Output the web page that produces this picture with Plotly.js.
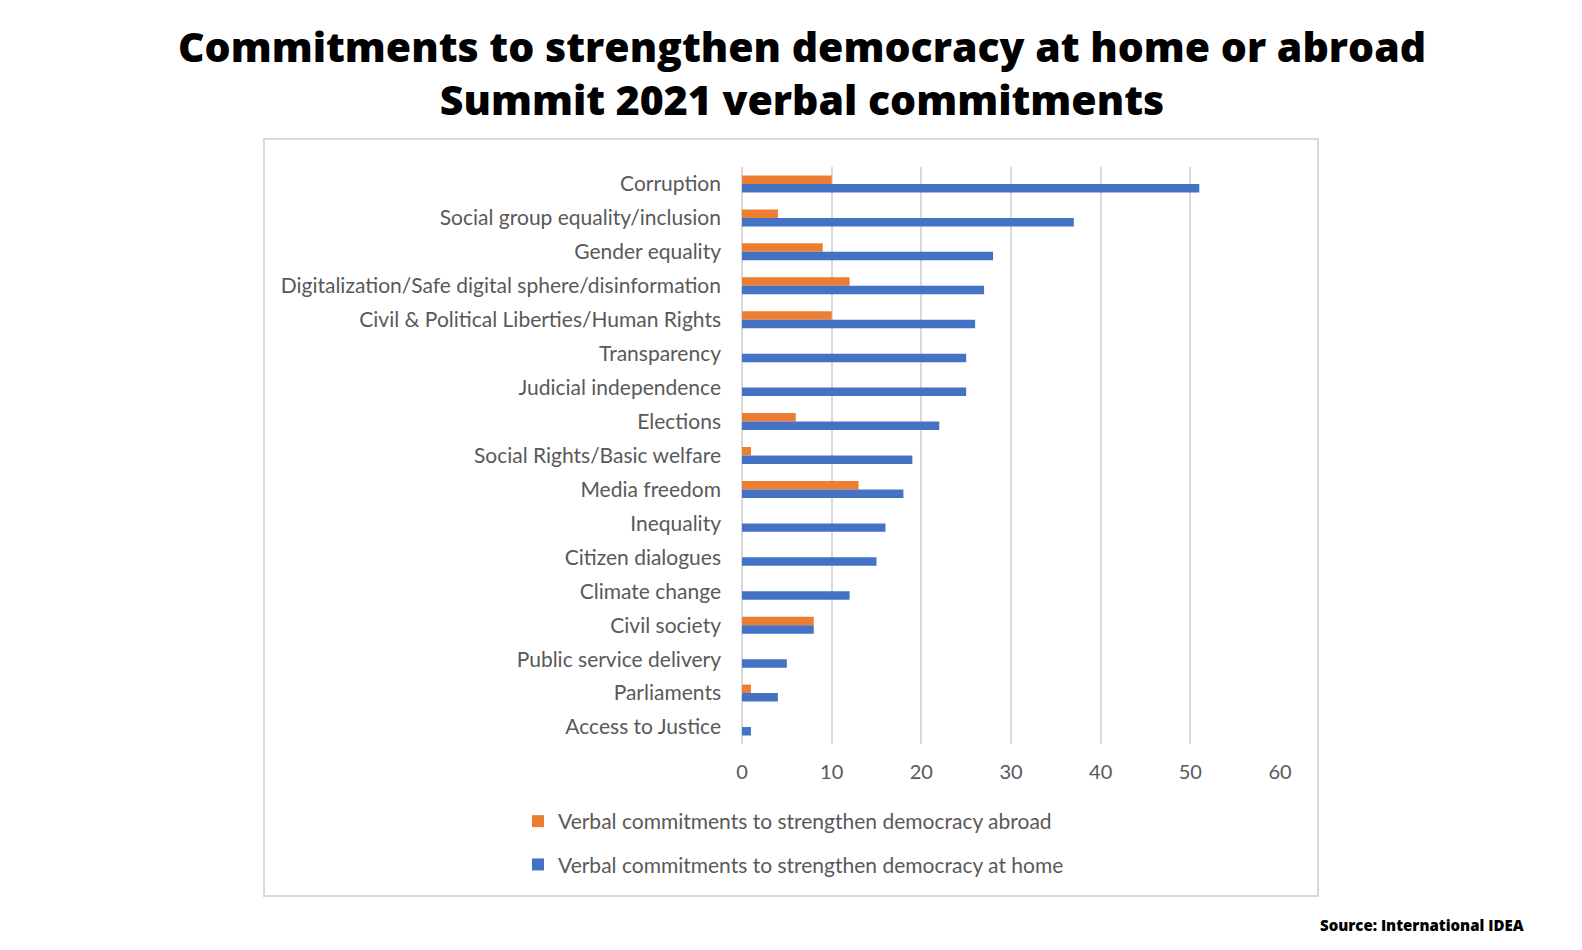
<!DOCTYPE html>
<html>
<head>
<meta charset="utf-8">
<script src="https://cdn.plot.ly/plotly-3.0.1.min.js"></script>
<style>
  html, body { margin: 0; padding: 0; background: #ffffff; }
  #chart { width: 1582px; height: 950px; }
</style>
</head>
<body>
<div id="chart"></div>
<script>
const categories = [
  "Corruption",
  "Social group equality/inclusion",
  "Gender equality",
  "Digitalization/Safe digital sphere/disinformation",
  "Civil & Political Liberties/Human Rights",
  "Transparency",
  "Judicial independence",
  "Elections",
  "Social Rights/Basic welfare",
  "Media freedom",
  "Inequality",
  "Citizen dialogues",
  "Climate change",
  "Civil society",
  "Public service delivery",
  "Parliaments",
  "Access to Justice"
];
const abroadValues = [10, 4, 9, 12, 10, 0, 0, 6, 1, 13, 0, 0, 0, 8, 0, 1, 0];
const homeValues = [51, 37, 28, 27, 26, 25, 25, 22, 19, 18, 16, 15, 12, 8, 5, 4, 1];
const abroadName = "Verbal commitments to strengthen democracy abroad";
const homeName = "Verbal commitments to strengthen democracy at home";
const xTicks = [0, 10, 20, 30, 40, 50, 60];

// plot area in pixels
const L = 742, R = 1280, T = 167, B = 744;
const W = 1582, H = 950;
const px = v => (v - L) / (R - L);
const py = v => (B - v) / (B - T);

const traces = [
  {
    type: "bar", orientation: "h", name: abroadName,
    y: categories, x: abroadValues,
    marker: { color: "#ED7D31" },
    legendgroup: "a", hoverinfo: "x+y"
  },
  {
    type: "bar", orientation: "h", name: homeName,
    y: categories, x: homeValues,
    marker: { color: "#4472C4" },
    legendgroup: "b", hoverinfo: "x+y"
  }
];

const layout = {
  width: W, height: H,
  paper_bgcolor: "#ffffff", plot_bgcolor: "#ffffff",
  margin: { l: L, r: W - R, t: T, b: H - B, pad: 0 },
  barmode: "group", bargap: 0.5, bargroupgap: 0,
  title: {
    text: "Commitments to strengthen democracy at home or abroad<br>Summit 2021 verbal commitments",
    font: { family: "Open Sans", size: 41, weight: 800, color: "#000000" },
    xref: "container", x: 802 / W, xanchor: "center",
    yref: "container", y: 1 - 62 / H, yanchor: "middle"
  },
  xaxis: {
    range: [0, 60], tickvals: xTicks, ticktext: xTicks.map(String),
    showgrid: true, gridcolor: "#d9d9d9", gridwidth: 2,
    zeroline: true, zerolinecolor: "#d9d9d9", zerolinewidth: 2,
    showline: false, ticks: "",
    ticklabelstandoff: 14,
    tickfont: { family: "Lato", size: 20, color: "#595959" },
    fixedrange: true
  },
  yaxis: {
    type: "category", categoryorder: "array", categoryarray: categories,
    autorange: "reversed",
    showgrid: false, zeroline: false, showline: false, ticks: "",
    ticklabelstandoff: 20,
    tickfont: { family: "Lato", size: 21, color: "#595959" },
    fixedrange: true
  },
  showlegend: true,
  legend: {
    orientation: "v", traceorder: "grouped", tracegroupgap: 13,
    x: px(518), xanchor: "left", y: py(801), yanchor: "top",
    font: { family: "Lato", size: 21, color: "#595959" },
    bgcolor: "rgba(0,0,0,0)", borderwidth: 0
  },
  shapes: [
    {
      type: "rect", xref: "paper", yref: "paper",
      x0: px(264), x1: px(1318), y0: py(896), y1: py(139),
      line: { color: "#d9d9d9", width: 2 }, fillcolor: "rgba(0,0,0,0)",
      layer: "below"
    }
  ],
  annotations: [
    {
      text: "Source: International IDEA", showarrow: false,
      xref: "paper", yref: "paper", x: px(1526), xanchor: "right",
      y: py(925), yanchor: "middle",
      font: { family: "Open Sans", size: 15, weight: 800, color: "#000000" }
    }
  ]
};

Plotly.newPlot("chart", traces, layout, { displayModeBar: false, staticPlot: true });
</script>
</body>
</html>
